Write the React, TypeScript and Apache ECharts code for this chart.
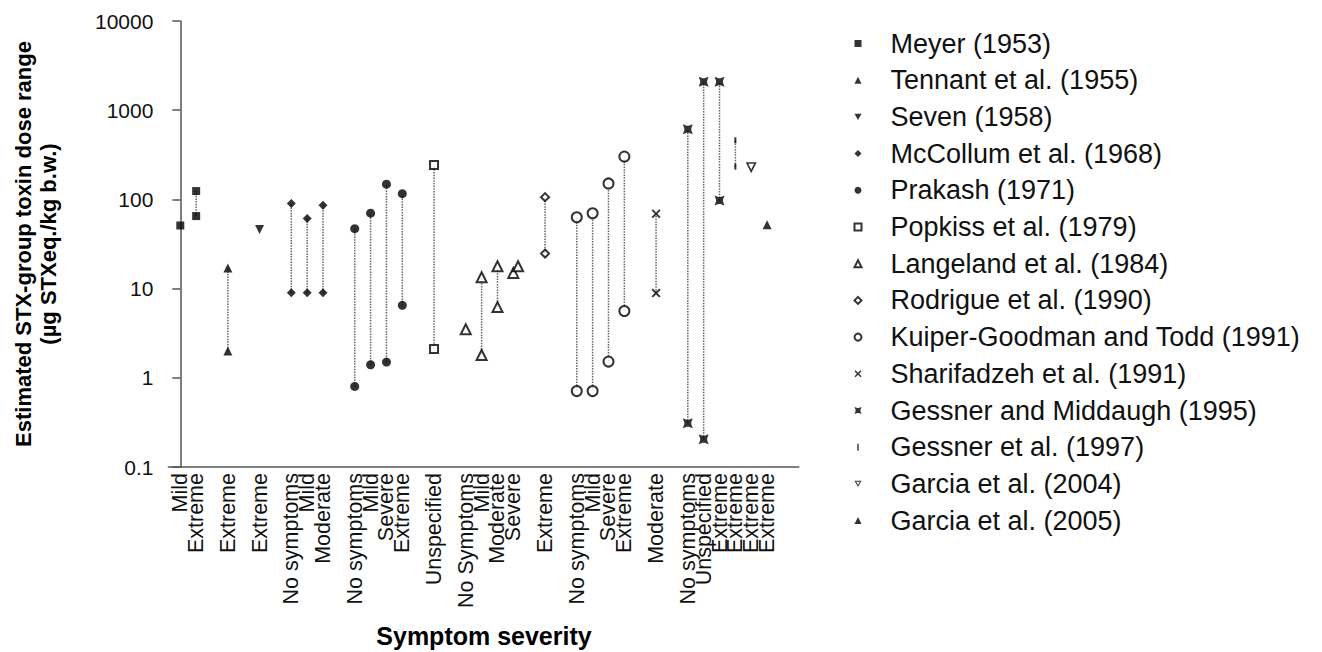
import React, { useEffect, useRef } from "react";
import * as echarts from "echarts";

// Category slots along the x axis ('' = empty gap slot)
const categories: string[] = [
  "Mild", "Extreme", "", "Extreme", "", "Extreme", "",
  "No symptoms", "Mild", "Moderate", "",
  "No symptoms", "Mild", "Severe", "Extreme", "",
  "Unspecified", "",
  "No Symptoms", "Mild", "Moderate", "Severe", "",
  "Extreme", "",
  "No symptoms", "Mild", "Severe", "Extreme", "",
  "Moderate", "",
  "No symptoms", "Unspecified", "Extreme", "Extreme", "Extreme", "Extreme", "",
];

const yTicks = ["0.1", "1", "10", "100", "1000", "10000"];

// [category slot, dose]
const meyer = [[0, 51], [1, 65], [1, 124]];
const tennant = [[3, 2.0], [3, 17]];
const seven = [[5, 46]];
const mccollum = [[7, 9], [7, 90], [8, 9], [8, 61], [9, 9], [9, 86]];
const prakash = [[11, 0.8], [11, 47], [12, 1.4], [12, 70], [13, 1.5], [13, 148], [14, 6.5], [14, 116]];
const popkiss = [[16, 2.1], [16, 243]];
const langeland = [[18, 3.5], [19, 1.8], [19, 13.4], [20, 6.2], [20, 17.8], [21, 15], [21.3, 17.8]];
const rodrigue = [[23, 24.7], [23, 106]];
const kuiper = [[25, 0.71], [25, 63], [26, 0.71], [26, 70], [27, 1.52], [27, 151], [28, 5.6], [28, 302]];
const sharifadzeh = [[30, 8.9], [30, 69]];
const gessnerMiddaugh = [[32, 0.31], [32, 612], [33, 0.205], [33, 2080], [34, 97], [34, 2080]];
const gessner1997 = [[35, 233], [35, 460]];
const garcia2004 = [[36, 227]];
const garcia2005 = [[37, 52]];

const xPath = "path://M0,1.5 L1.5,0 L5,3.5 L8.5,0 L10,1.5 L6.5,5 L10,8.5 L8.5,10 L5,6.5 L1.5,10 L0,8.5 L3.5,5 Z";
const starPath = "path://M0,0 L4,1.5 L6,1.5 L10,0 L8.5,4 L8.5,6 L10,10 L6,8.5 L4,8.5 L0,10 L1.5,6 L1.5,4 Z";
const tickPath = "path://M0,0 L2,0 L2,10 L0,10 Z";
const downTri = "path://M0,0 L10,0 L5,9 Z";
const emptyDownTri = "path://M0,0 L10,0 L5,9 Z M2.4,1.4 L5,6.1 L7.6,1.4 Z";

const studies = [
  { name: "Meyer (1953)", data: meyer, symbol: "rect", size: 8 },
  { name: "Tennant et al. (1955)", data: tennant, symbol: "triangle", size: 9 },
  { name: "Seven (1958)", data: seven, symbol: downTri, size: 9 },
  { name: "McCollum et al. (1968)", data: mccollum, symbol: "diamond", size: 9 },
  { name: "Prakash (1971)", data: prakash, symbol: "circle", size: 9 },
  { name: "Popkiss et al. (1979)", data: popkiss, symbol: "emptyRect", size: 8 },
  { name: "Langeland et al. (1984)", data: langeland, symbol: "emptyTriangle", size: 10 },
  { name: "Rodrigue et al. (1990)", data: rodrigue, symbol: "emptyDiamond", size: 8 },
  { name: "Kuiper-Goodman and Todd (1991)", data: kuiper, symbol: "emptyCircle", size: 10 },
  { name: "Sharifadzeh et al. (1991)", data: sharifadzeh, symbol: xPath, size: 9 },
  { name: "Gessner and Middaugh (1995)", data: gessnerMiddaugh, symbol: starPath, size: 10 },
  { name: "Gessner et al. (1997)", data: gessner1997, symbol: tickPath, size: [2, 6] },
  { name: "Garcia et al. (2004)", data: garcia2004, symbol: emptyDownTri, size: 11 },
  { name: "Garcia et al. (2005)", data: garcia2005, symbol: "triangle", size: 9 },
];

function buildRanges() {
  const out: number[][] = [];
  studies.forEach((s) => {
    const groups = new Map<number, number[]>();
    s.data.forEach(([x, y]) => {
      if (!groups.has(x)) groups.set(x, []);
      groups.get(x)!.push(y);
    });
    groups.forEach((ys, x) => {
      if (ys.length > 1) out.push([x, Math.min(...ys), Math.max(...ys)]);
    });
  });
  return out;
}

export default function App() {
  const ref = useRef<HTMLDivElement>(null);
  useEffect(() => {
    document.body.style.margin = "0";
    const chart = echarts.init(ref.current!, null, { renderer: "svg" });
    const axisColor = "#555";
    const font = "Liberation Sans, Arial, sans-serif";
    const option: any = {
      animation: false,
      backgroundColor: "#fff",
      textStyle: { fontFamily: font },
      grid: { left: 168.4, top: 21, right: 523.2, bottom: 185, containLabel: false },
      xAxis: {
        type: "value",
        min: -0.75,
        max: 39,
        interval: 0.25,
        axisLine: { show: true, onZero: false, lineStyle: { color: axisColor, width: 1.5 } },
        axisTick: { show: false },
        splitLine: { show: false },
        axisLabel: {
          rotate: 90,
          margin: 6,
          fontSize: 21.5,
          color: "#111",
          fontFamily: font,
          formatter: (v: number) => (Number.isInteger(v) && v >= 0 ? categories[v] || "" : ""),
        },
      },
      yAxis: {
        type: "log",
        logBase: 10,
        min: 0.1,
        max: 10000,
        axisLine: { show: true, lineStyle: { color: axisColor, width: 1.5 } },
        axisTick: { show: true, length: 8, lineStyle: { color: axisColor, width: 1.5 } },
        splitLine: { show: false },
        axisLabel: {
          margin: 15,
          fontSize: 21,
          color: "#111",
          fontFamily: font,
          formatter: (v: number) => {
            const i = Math.round(Math.log10(v)) + 1;
            return yTicks[i] ?? String(v);
          },
        },
        name: "Estimated STX-group toxin dose range\n(µg STXeq./kg b.w.)",
        nameLocation: "middle",
        nameGap: 107,
        nameTextStyle: { fontSize: 22, fontWeight: "bold", color: "#000", lineHeight: 25, fontFamily: font },
      },
      legend: {
        orient: "vertical",
        left: 848.5,
        top: 25,
        itemWidth: 7,
        itemHeight: 7,
        itemGap: 9.7,
        data: studies.map((s) => s.name),
        textStyle: { fontSize: 27, lineHeight: 27, color: "#111", padding: [0, 0, 0, 24], fontFamily: font },
      },
      graphic: [
        {
          type: "text",
          x: 484,
          y: 636,
          style: {
            text: "Symptom severity",
            font: `bold 25px ${font}`,
            fill: "#000",
            textAlign: "center",
            textVerticalAlign: "middle",
          },
        },
      ],
      series: [
        {
          type: "custom",
          name: "ranges",
          silent: true,
          z: 1,
          data: buildRanges(),
          encode: { x: 0, y: [1, 2] },
          renderItem: (params: any, api: any) => {
            const p1 = api.coord([api.value(0), api.value(1)]);
            const p2 = api.coord([api.value(0), api.value(2)]);
            return {
              type: "line",
              shape: { x1: p1[0], y1: p1[1], x2: p2[0], y2: p2[1] },
              style: { stroke: "#666", lineWidth: 1.5, lineDash: [1.5, 1.2] },
            };
          },
        },
        ...studies.map((s) => ({
          type: "scatter",
          name: s.name,
          z: 3,
          data: s.data,
          symbol: s.symbol,
          symbolSize: s.size,
          itemStyle: { color: "#000", borderColor: "#000", borderWidth: s.symbol.startsWith("empty") ? 1.5 : 0 },
        })),
      ],
    };
    chart.setOption(option);
    return () => chart.dispose();
  }, []);
  return <div ref={ref} style={{ width: 1322, height: 652 }} />;
}
